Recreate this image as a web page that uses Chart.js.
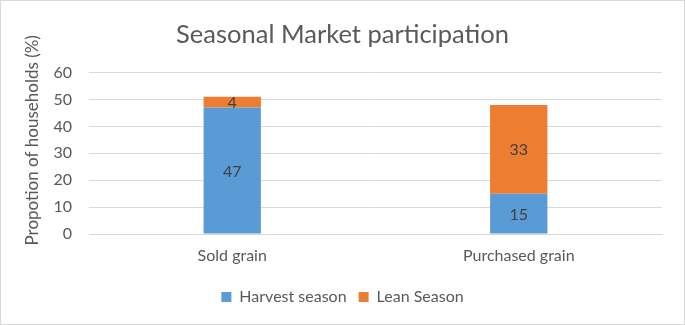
<!DOCTYPE html>
<html>
<head>
<meta charset="utf-8">
<script src="https://cdn.jsdelivr.net/npm/chart.js@4/dist/chart.umd.min.js"></script>
<style>
html,body{margin:0;padding:0;background:#fff;}
#wrap{width:685px;height:325px;position:relative;}
</style>
</head>
<body>
<div id="wrap"><canvas id="c" width="685" height="325"></canvas></div>
<script>
const categories = ["Sold grain", "Purchased grain"];
const harvestSeason = [47, 15];
const leanSeason = [4, 33];
const seriesNames = ["Harvest season", "Lean Season"];
const yTicks = [0, 10, 20, 30, 40, 50, 60];
const yTitle = "Propotion of households (%)";

const FONT = "Lato, 'Open Sans', sans-serif";
const TXT = "#595959";

const bgBorder = {
  id: 'bgBorder',
  beforeDraw(chart) {
    const ctx = chart.ctx;
    ctx.save();
    ctx.fillStyle = '#fff';
    ctx.fillRect(0, 0, chart.width, chart.height);
    ctx.strokeStyle = '#d9d9d9';
    ctx.lineWidth = 1;
    ctx.strokeRect(0.5, 0.5, chart.width - 1, chart.height - 1);
    ctx.restore();
  }
};

// y-axis title, placed as in the original (slightly above the plot centre)
const yTitlePlugin = {
  id: 'yTitlePlugin',
  afterDraw(chart) {
    const ctx = chart.ctx;
    const ca = chart.chartArea;
    ctx.save();
    ctx.font = "17px " + FONT;
    ctx.fillStyle = TXT;
    ctx.textAlign = "center";
    ctx.textBaseline = "middle";
    ctx.translate(33, (ca.top + ca.bottom) / 2 - 13);
    ctx.rotate(-Math.PI / 2);
    ctx.fillText(yTitle, 0, 0);
    ctx.restore();
  }
};

const barLabels = {
  id: 'barLabels',
  afterDatasetsDraw(chart) {
    const ctx = chart.ctx;
    ctx.save();
    ctx.font = "16px " + FONT;
    ctx.fillStyle = "#404040";
    ctx.textAlign = "center";
    ctx.textBaseline = "middle";
    chart.data.datasets.forEach((ds, i) => {
      const meta = chart.getDatasetMeta(i);
      meta.data.forEach((bar, j) => {
        const p = bar.getProps(['x', 'y', 'base'], true);
        ctx.fillText(String(ds.data[j]), p.x, (p.y + p.base) / 2 + 1);
      });
    });
    ctx.restore();
  }
};

new Chart(document.getElementById('c'), {
  type: 'bar',
  data: {
    labels: categories,
    datasets: [
      { label: seriesNames[0], data: harvestSeason, backgroundColor: '#5B9BD5', borderWidth: 0 },
      { label: seriesNames[1], data: leanSeason, backgroundColor: '#ED7D31', borderWidth: 0 }
    ]
  },
  options: {
    responsive: false,
    animation: false,
    layout: { padding: { left: 23, right: 23, top: 0, bottom: 10 } },
    datasets: { bar: { categoryPercentage: 1.0, barPercentage: 0.2 } },
    scales: {
      x: {
        stacked: true,
        afterFit(axis) { axis.height = 43; },
        grid: { display: false, drawTicks: false },
        border: { display: true, color: '#d9d9d9' },
        ticks: { color: TXT, font: { family: FONT, size: 16 }, padding: 12 }
      },
      y: {
        stacked: true,
        min: 0, max: 60,
        afterBuildTicks(axis) { axis.ticks = yTicks.map(v => ({ value: v })); },
        afterFit(axis) { axis.width = 66; },
        grid: { color: '#d9d9d9', drawTicks: false },
        border: { display: false },
        ticks: { color: TXT, font: { family: FONT, size: 16 }, padding: 17 },
        title: { display: false }
      }
    },
    plugins: {
      title: {
        display: true,
        text: 'Seasonal Market participation',
        color: TXT,
        font: { family: FONT, size: 25.5, weight: 'normal' },
        padding: { top: 19, bottom: 23 }
      },
      legend: {
        position: 'bottom',
        labels: { color: TXT, font: { family: FONT, size: 16 }, boxWidth: 10, boxHeight: 10, padding: 12 }
      },
      tooltip: { enabled: false }
    }
  },
  plugins: [bgBorder, yTitlePlugin, barLabels]
});
</script>
</body>
</html>
